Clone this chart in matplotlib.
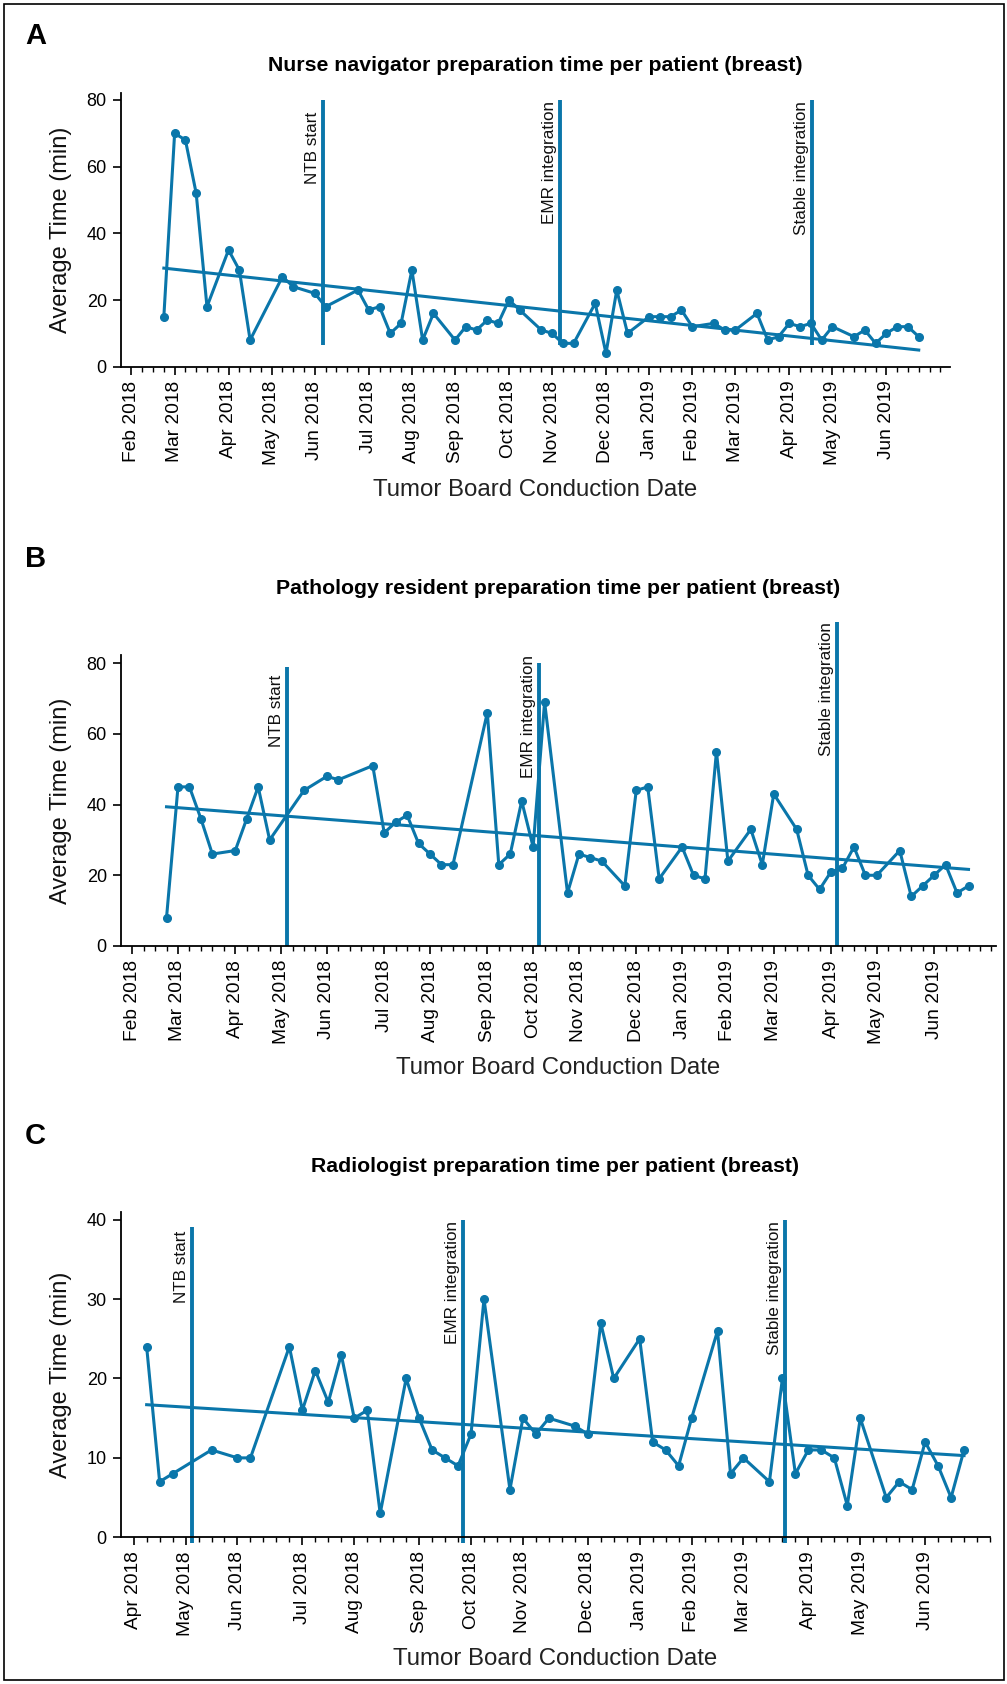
import numpy as np
import matplotlib
matplotlib.use("Agg")
import matplotlib.pyplot as plt
from matplotlib import transforms
from matplotlib.patches import Rectangle
from matplotlib.ticker import FixedLocator, NullFormatter

W, H = 1007, 1684
BLUE = "#0a76aa"
SANS = ["Liberation Sans", "DejaVu Sans"]
NARROW = ["Liberation Sans Narrow", "DejaVu Sans Condensed", "Liberation Sans", "DejaVu Sans"]

EVENT_LABELS = ["NTB start", "EMR integration", "Stable integration"]

# x = week index of the tumor board (minor ticks are weekly)
months_ab = ["Feb 2018", "Mar 2018", "Apr 2018", "May 2018", "Jun 2018", "Jul 2018",
             "Aug 2018", "Sep 2018", "Oct 2018", "Nov 2018", "Dec 2018", "Jan 2019",
             "Feb 2019", "Mar 2019", "Apr 2019", "May 2019", "Jun 2019"]
months_c = months_ab[2:]

# Panel A: nurse navigator
a_month_weeks = [0, 4, 9, 13, 17, 22, 26, 30, 35, 39, 44, 48, 52, 56, 61, 65, 70]
a_weeks = [3, 4, 5, 6, 7, 9, 10, 11, 14, 15, 17, 18, 21, 22, 23, 24, 25, 26, 27, 28,
           30, 31, 32, 33, 34, 35, 36, 38, 39, 40, 41, 43, 44, 45, 46, 48, 49, 50, 51,
           52, 54, 55, 56, 58, 59, 60, 61, 62, 63, 64, 65, 67, 68, 69, 70, 71, 72, 73]
a_minutes = [15, 70, 68, 52, 18, 35, 29, 8, 27, 24, 22, 18, 23, 17, 18, 10, 13, 29, 8, 16,
             8, 12, 11, 14, 13, 20, 17, 11, 10, 7, 7, 19, 4, 23, 10, 15, 15, 15, 17,
             12, 13, 11, 11, 16, 8, 9, 13, 12, 13, 8, 12, 9, 11, 7, 10, 12, 12, 9]
a_events = [17.8, 39.7, 63.1]

# Panel B: pathology resident
b_month_weeks = [0, 4, 9, 13, 17, 22, 26, 31, 35, 39, 44, 48, 52, 56, 61, 65, 70]
b_weeks = [3, 4, 5, 6, 7, 9, 10, 11, 12, 15, 17, 18, 21, 22, 23, 24, 25, 26, 27, 28,
           31, 32, 33, 34, 35, 36, 38, 39, 40, 41, 43, 44, 45, 46, 48, 49, 50, 51, 52,
           54, 55, 56, 58, 59, 60, 61, 62, 63, 64, 65, 67, 68, 69, 70, 71, 72, 73]
b_minutes = [8, 45, 45, 36, 26, 27, 36, 45, 30, 44, 48, 47, 51, 32, 35, 37, 29, 26, 23, 23,
             66, 23, 26, 41, 28, 69, 15, 26, 25, 24, 17, 44, 45, 19, 28, 20, 19, 55, 24,
             33, 23, 43, 33, 20, 16, 21, 22, 28, 20, 20, 27, 14, 17, 20, 23, 15, 17]
b_events = [13.5, 35.55, 61.5]

# Panel C: radiologist
c_month_weeks = [0, 4, 8, 13, 17, 22, 26, 30, 35, 39, 43, 47, 52, 56, 61]
c_weeks = [1, 2, 3, 6, 8, 9, 12, 13, 14, 15, 16, 17, 18, 19, 21, 22, 23, 24, 25, 26,
           27, 29, 30, 31, 32, 34, 35, 36, 37, 39, 40, 41, 42, 43, 45, 46, 47, 49, 50,
           51, 52, 53, 54, 55, 56, 58, 59, 60, 61, 62, 63, 64]
c_minutes = [24, 7, 8, 11, 10, 10, 24, 16, 21, 17, 23, 15, 16, 3, 20, 15, 11, 10, 9, 13,
             30, 6, 15, 13, 15, 14, 13, 27, 20, 25, 12, 11, 9, 15, 26, 8, 10, 7, 20,
             8, 11, 11, 10, 4, 15, 5, 7, 6, 12, 9, 5, 11]
c_events = [4.5, 25.35, 50.2]


def fx(x):
    return x / W


def fy(y):
    return 1 - y / H


def draw_panel(fig, rect, weeks, minutes, month_weeks, month_labels, events,
               xlim, ylim, yticks, line_bottom, line_tops, text_tops):
    left, top, right, bottom = rect
    ax = fig.add_axes([fx(left), fy(bottom), fx(right - left), (bottom - top) / H])
    ax.set_xlim(*xlim)
    ax.set_ylim(*ylim)

    weeks = np.asarray(weeks, dtype=float)
    minutes = np.asarray(minutes, dtype=float)
    ax.plot(weeks, minutes, color=BLUE, lw=2.2, marker="o", ms=5.5, zorder=3,
            clip_on=False)

    # linear trend over the weekly values
    slope, icept = np.polyfit(weeks, minutes, 1)
    xs = np.array([weeks.min(), weeks.max()])
    ax.plot(xs, slope * xs + icept, color=BLUE, lw=2.2, zorder=2)

    shift = transforms.offset_copy(ax.transData, fig=fig, x=-3, y=0, units="dots")
    for label, xe, ytop, ttop in zip(EVENT_LABELS, events, line_tops, text_tops):
        ax.plot([xe, xe], [line_bottom, ytop], color=BLUE, lw=2.8, zorder=2,
                clip_on=False, solid_capstyle="butt")
        ax.text(xe, ttop, label, transform=shift, rotation=90, ha="right", va="top",
                fontsize=12.3, family=SANS, color="#111111")

    for s in ("top", "right"):
        ax.spines[s].set_visible(False)
    for s in ("left", "bottom"):
        ax.spines[s].set_linewidth(1.3)

    ax.xaxis.set_major_locator(FixedLocator(month_weeks))
    ax.set_xticklabels(month_labels, rotation=90, fontsize=13.8, family=SANS)
    minor = [w for w in range(0, int(xlim[1]) + 1) if w not in month_weeks]
    ax.xaxis.set_minor_locator(FixedLocator(minor))
    ax.xaxis.set_minor_formatter(NullFormatter())
    ax.tick_params(axis="x", which="major", length=6, width=1.2, pad=4)
    ax.tick_params(axis="x", which="minor", length=3.5, width=1.0)

    ax.set_yticks(yticks)
    ax.set_yticklabels([str(v) for v in yticks], fontsize=13, family=SANS)
    ax.tick_params(axis="y", length=6, width=1.2, pad=4)
    return ax


fig = plt.figure(figsize=(W / 100, H / 100), dpi=100)

panels = [
    dict(letter="A", title="Nurse navigator preparation time per patient (breast)",
         rect=(120.7, 93.3, 950, 366.7), weeks=a_weeks, minutes=a_minutes,
         month_weeks=a_month_weeks, month_labels=months_ab, events=a_events,
         xlim=(-1, 75.9), ylim=(0, 82), yticks=[0, 20, 40, 60, 80],
         line_bottom=6.5, line_tops=[80, 80, 80], text_tops=[76.5, 79.8, 79.8],
         letter_y=36.5, title_y=65.5, xlabel_y=489.6),
    dict(letter="B", title="Pathology resident preparation time per patient (breast)",
         rect=(120.7, 655, 996, 946), weeks=b_weeks, minutes=b_minutes,
         month_weeks=b_month_weeks, month_labels=months_ab, events=b_events,
         xlim=(-1, 75.4), ylim=(0, 82.3), yticks=[0, 20, 40, 60, 80],
         line_bottom=0, line_tops=[79, 80, 91.5], text_tops=[76.7, 82.3, 91.5],
         letter_y=559.3, title_y=588.3, xlabel_y=1068.2),
    dict(letter="C", title="Radiologist preparation time per patient (breast)",
         rect=(120.7, 1211.7, 990, 1537.3), weeks=c_weeks, minutes=c_minutes,
         month_weeks=c_month_weeks, month_labels=months_c, events=c_events,
         xlim=(-1, 66), ylim=(0, 41), yticks=[0, 10, 20, 30, 40],
         line_bottom=-0.7, line_tops=[39.1, 39.9, 39.9], text_tops=[38.6, 39.85, 39.85],
         letter_y=1135.9, title_y=1167, xlabel_y=1658.7),
]

for p in panels:
    draw_panel(fig, p["rect"], p["weeks"], p["minutes"], p["month_weeks"],
               p["month_labels"], p["events"], p["xlim"], p["ylim"], p["yticks"],
               p["line_bottom"], p["line_tops"], p["text_tops"])
    left, top, right, bottom = p["rect"]
    cx = (left + right) / 2
    fig.text(fx(35.4), fy(p["letter_y"]), p["letter"], ha="center", va="center",
             fontsize=21, fontweight="bold", family=NARROW)
    fig.text(fx(cx), fy(p["title_y"]), p["title"], ha="center", va="center",
             fontsize=15.3, fontweight="bold", family=NARROW)
    fig.text(fx(cx), fy(p["xlabel_y"]), "Tumor Board Conduction Date", ha="center",
             va="center", fontsize=17.3, family=NARROW, color="#222222")
    fig.text(fx(61.2), fy((top + bottom) / 2), "Average Time (min)", ha="center",
             va="center", rotation=90, fontsize=17, family=SANS, color="#111111")

fig.patches.append(Rectangle((fx(4), fy(1680)), fx(1000), (1676) / H, fill=False,
                             lw=1.2, edgecolor="black", transform=fig.transFigure))

fig.savefig("out.png", dpi=100)
